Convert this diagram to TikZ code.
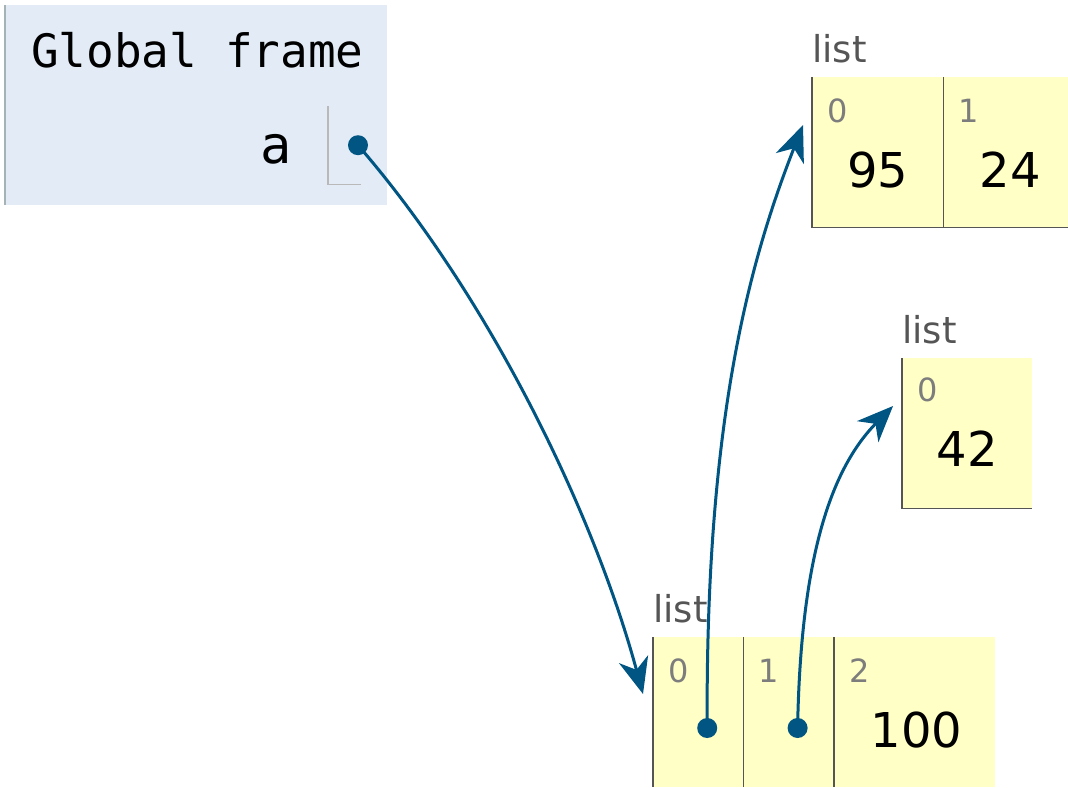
\documentclass[tikz,border=0pt]{standalone}
\usepackage{fontspec}
\setmainfont{DejaVu Sans}
\newfontfamily\codefont{DejaVu Sans Mono}
\usetikzlibrary{positioning, arrows.meta, calc}
\definecolor{ptframe}{RGB}{226,235,246}
\definecolor{ptlist}{RGB}{255,255,198}
\definecolor{ptarrow}{RGB}{0,85,131}
\definecolor{ptborder}{RGB}{85,85,85}
\definecolor{ptframeedge}{RGB}{166,179,182}
\definecolor{ptindex}{RGB}{125,125,125}
\tikzset{
    framebox/.style={rectangle, fill=ptframe, minimum width=382pt, minimum height=200pt, inner sep=0pt, anchor=north west},
    listcell/.style={rectangle, fill=ptlist, minimum width=#1, minimum height=150pt, inner sep=0pt, anchor=north west},
    cellborder/.style={draw=ptborder, line width=1.6pt},
    varbox/.style={rectangle, minimum width=33pt, minimum height=78pt, inner sep=0pt, anchor=north west},
    varborder/.style={draw=gray!55, line width=1.2pt},
    framelbl/.style={font=\codefont\fontsize{46}{50}\selectfont, anchor=base west, inner sep=0pt},
    varname/.style={font=\codefont\fontsize{52}{56}\selectfont, anchor=base east, inner sep=0pt},
    typelbl/.style={font=\fontsize{37}{40}\selectfont, text=ptborder, anchor=base west, inner sep=0pt},
    idxlbl/.style={font=\fontsize{32}{36}\selectfont, text=ptindex, anchor=base west, inner sep=0pt},
    vallbl/.style={font=\fontsize{48}{52}\selectfont, anchor=base, inner sep=0pt},
    ptrdot/.style={circle, fill=ptarrow, minimum size=20pt, inner sep=0pt},
    pointer/.style={-{Stealth[length=36pt, width=30pt, inset=11pt]}, line width=3pt, color=ptarrow}
}

\begin{document}
\begin{tikzpicture}[x=1pt, y=-1pt, node distance=0pt]
    \useasboundingbox (0,0) rectangle (1068,787);
    % global frame
    \node[framebox] (frame) at (5,5) {};
    \draw[draw=ptframeedge, line width=1.5pt] (frame.north west) -- (frame.south west);
    \node[framelbl] (ftitle) at (31,67) {Global frame};
    \node[varbox] (aval) at (328,106) {};
    \draw[varborder] (aval.north west) -- (aval.south west) -- (aval.south east);
    \node[varname] (aname) at (292,163) {a};
    \node[ptrdot] (adot) at ($(aval.west)+(30,0)$) {};

    % list [95, 24]
    \node[listcell=131pt] (l1c0) at (812,77) {};
    \node[listcell=125pt, right=of l1c0] (l1c1) {};
    \draw[cellborder] (l1c0.north west) -- (l1c0.south west) -- (l1c1.south east);
    \draw[cellborder] (l1c1.north west) -- (l1c1.south west);
    \node[typelbl] (l1type) at ($(l1c0.north west)+(0,-15)$) {list};
    \node[idxlbl] (l1i0) at ($(l1c0.north west)+(15,45)$) {0};
    \node[idxlbl] (l1i1) at ($(l1c1.north west)+(15,45)$) {1};
    \node[vallbl] (l1v0) at ($(l1c0.north)+(0,110)$) {95};
    \node[vallbl] (l1v1) at ($(l1c1.north)+(4,110)$) {24};

    % list [42]
    \node[listcell=130pt] (l2c0) at (902,358) {};
    \draw[cellborder] (l2c0.north west) -- (l2c0.south west) -- (l2c0.south east);
    \node[typelbl] (l2type) at ($(l2c0.north west)+(0,-15)$) {list};
    \node[idxlbl] (l2i0) at ($(l2c0.north west)+(15,43)$) {0};
    \node[vallbl] (l2v0) at ($(l2c0.north)+(0,108)$) {42};

    % list [ , , 100]
    \node[listcell=90pt] (l3c0) at (653,637) {};
    \node[listcell=90pt, right=of l3c0] (l3c1) {};
    \node[listcell=161pt, right=of l3c1] (l3c2) {};
    \draw[cellborder] (l3c0.north west) -- (l3c0.south west);
    \draw[cellborder] (l3c1.north west) -- (l3c1.south west);
    \draw[cellborder] (l3c2.north west) -- (l3c2.south west);
    \node[typelbl] (l3type) at ($(l3c0.north west)+(0,-15)$) {list};
    \node[idxlbl] (l3i0) at ($(l3c0.north west)+(15,45)$) {0};
    \node[idxlbl] (l3i1) at ($(l3c1.north west)+(15,45)$) {1};
    \node[idxlbl] (l3i2) at ($(l3c2.north west)+(15,45)$) {2};
    \node[vallbl] (l3v2) at ($(l3c2.north)+(2,110)$) {100};
    \node[ptrdot] (l3d0) at ($(l3c0.north)+(9,91)$) {};
    \node[ptrdot] (l3d1) at ($(l3c1.north)+(9,91)$) {};

    % references
    \draw[pointer] (adot.center) .. controls +(130,150) and +(-50,-184) .. ($(l3c0.north west)+(-10,57)$);
    \draw[pointer] (l3d0.center) .. controls +(-2,-308) and +(-53,135) .. ($(l1c0.north west)+(-9,48)$);
    \draw[pointer] (l3d1.center) .. controls +(3,-168) and +(-63,64) .. ($(l2c0.north west)+(-9,48)$);
\end{tikzpicture}
\end{document}
